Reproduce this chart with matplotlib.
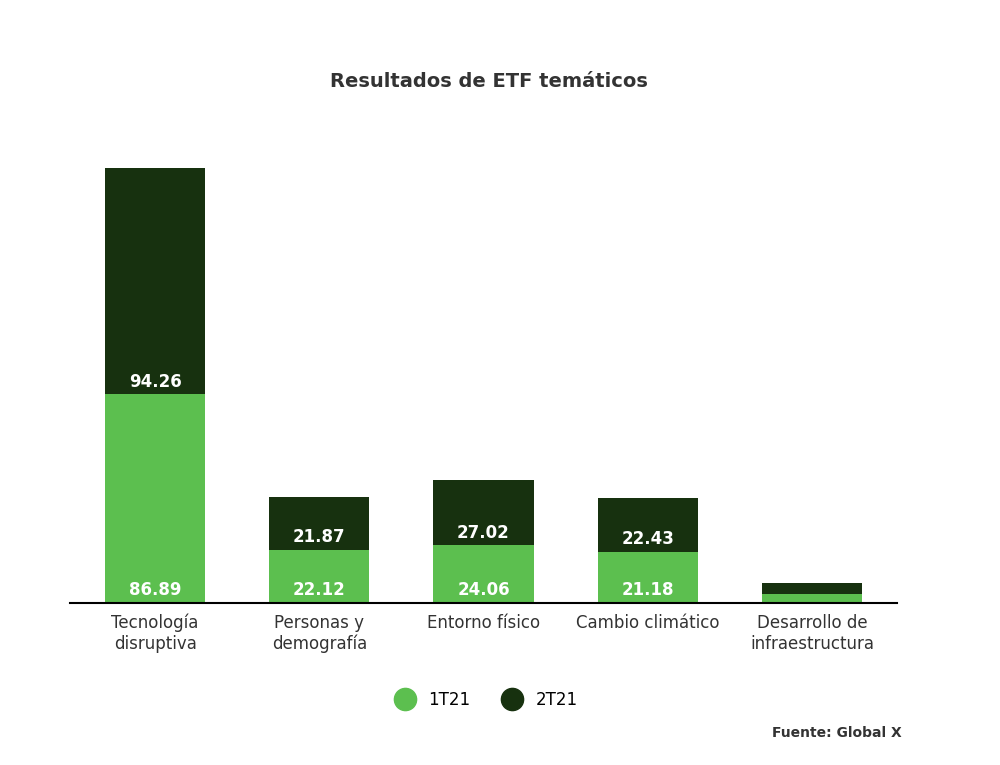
import matplotlib.pyplot as plt
from matplotlib.lines import Line2D

categories = ["Tecnología\ndisruptiva", "Personas y\ndemografía", "Entorno físico",
              "Cambio climático", "Desarrollo de\ninfraestructura"]
q1 = [86.89, 22.12, 24.06, 21.18, 3.7]
q2 = [94.26, 21.87, 27.02, 22.43, 4.6]
show_labels = [True, True, True, True, False]

light = "#5cbf4f"
dark = "#17310f"

fig = plt.figure(figsize=(10, 7.65), dpi=100)
ax = fig.add_axes([0.07, 0.212, 0.827, 0.568])
x = range(len(categories))
ax.bar(x, q1, width=0.61, color=light)
ax.bar(x, q2, width=0.61, bottom=q1, color=dark)

for i in x:
    if not show_labels[i]:
        continue
    ax.text(i, 1.5, f"{q1[i]:.2f}", ha="center", va="bottom", color="white",
            fontsize=12, fontweight="bold")
    ax.text(i, q1[i] + 1.5, f"{q2[i]:.2f}", ha="center", va="bottom", color="white",
            fontsize=12, fontweight="bold")

ax.set_xlim(-0.518, 4.518)
ax.set_ylim(0, q1[0] + q2[0])
ax.set_xticks(list(x))
ax.set_xticklabels(categories, fontsize=12, color="#333333")
ax.tick_params(axis="x", length=0, pad=8)
ax.set_yticks([])
for s in ["top", "right", "left"]:
    ax.spines[s].set_visible(False)
ax.spines["bottom"].set_linewidth(1.5)

fig.text(0.489, 0.893, "Resultados de ETF temáticos", ha="center", va="center",
         fontsize=14, fontweight="bold", color="#333333")

handles = [Line2D([], [], marker="o", ls="", markersize=16, color=light),
           Line2D([], [], marker="o", ls="", markersize=16, color=dark)]
fig.legend(handles, ["1T21", "2T21"], loc="center", bbox_to_anchor=(0.483, 0.085),
           ncol=2, frameon=False, fontsize=12, handletextpad=0.4, columnspacing=1.5)

fig.text(0.902, 0.042, "Fuente: Global X", ha="right", va="center",
         fontsize=10, fontweight="bold", color="#333333")

plt.savefig("out.png", dpi=100)
